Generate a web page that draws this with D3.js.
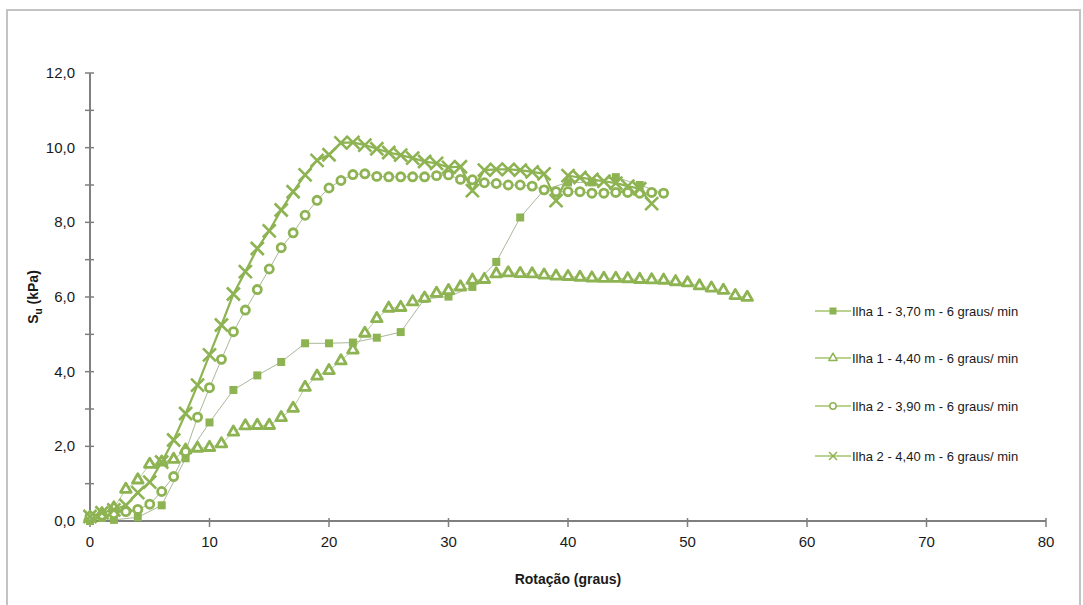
<!DOCTYPE html>
<html>
<head>
<meta charset="utf-8">
<script src="https://cdn.jsdelivr.net/npm/d3@7"></script>
<style>
  body { margin: 0; background: #fff; }
  text { font-family: "Liberation Sans", Arial, sans-serif; fill: #1a1a1a; }
</style>
</head>
<body>
<script>
var width = 1083, height = 605;
var margin = {left: 90, top: 73, right: 37, bottom: 84};
var innerW = 1046 - 90, innerH = 521 - 73;

// data
var sqX = [0,1,2,4,6,8,10,12,14,16,18,20,22,24,26,28,30,32,34,36,38,40,42,44,46,48];
var sqY = [0.0,0.08,0.03,0.1,0.42,1.68,2.64,3.51,3.9,4.26,4.76,4.76,4.78,4.91,5.06,5.95,6.01,6.27,6.94,8.13,8.87,9.07,9.07,9.21,9.0,8.78];

var triX = d3.range(0, 56);
var triY = [0.1,0.2,0.35,0.85,1.1,1.52,1.58,1.65,1.9,1.95,1.97,2.07,2.38,2.55,2.56,2.56,2.77,3.02,3.58,3.88,4.03,4.29,4.58,5.03,5.42,5.7,5.72,5.87,5.97,6.1,6.17,6.27,6.45,6.47,6.62,6.65,6.63,6.62,6.59,6.56,6.55,6.53,6.51,6.5,6.5,6.49,6.47,6.46,6.45,6.41,6.38,6.3,6.24,6.18,6.04,5.99];

var cirX = d3.range(0, 49);
var cirY = [0.12,0.16,0.2,0.25,0.31,0.45,0.79,1.19,1.86,2.78,3.57,4.33,5.07,5.65,6.2,6.75,7.32,7.72,8.19,8.59,8.92,9.12,9.28,9.3,9.23,9.22,9.22,9.22,9.22,9.25,9.27,9.15,9.14,9.06,9.04,9.0,9.0,8.97,8.87,8.82,8.82,8.82,8.78,8.78,8.8,8.8,8.78,8.8,8.78];

var crX = d3.range(0, 48);
var crY = [0.12,0.22,0.3,0.42,0.76,1.04,1.58,2.17,2.88,3.64,4.45,5.25,6.08,6.68,7.3,7.77,8.33,8.82,9.27,9.66,9.81,10.13,10.14,10.07,9.97,9.87,9.8,9.72,9.63,9.58,9.47,9.49,8.85,9.4,9.42,9.42,9.4,9.35,9.3,8.58,9.25,9.2,9.15,9.1,9.05,8.97,8.9,8.5];

var seriesNames = ["Ilha 1 - 3,70 m - 6 graus/ min", "Ilha 1 - 4,40 m - 6 graus/ min",
                   "Ilha 2 - 3,90 m - 6 graus/ min", "Ilha 2 - 4,40 m - 6 graus/ min"];
var xTicks = [0,10,20,30,40,50,60,70,80];
var yTicks = [0,2,4,6,8,10,12];
var yMinor = d3.range(0, 13);

var green = "#8db352";

var svg = d3.select("body").append("svg")
    .attr("width", width).attr("height", height);

// outer frame
svg.append("rect").attr("x", 7).attr("y", 10).attr("width", 1073).attr("height", 610)
   .attr("fill", "none").attr("stroke", "#c3c3c3").attr("stroke-width", 2);

var g = svg.append("g").attr("transform", "translate(" + margin.left + "," + margin.top + ")");

var x = d3.scaleLinear().domain([0, 80]).range([0, innerW]);
var y = d3.scaleLinear().domain([0, 12]).range([innerH, 0]);

// y axis
g.append("line").attr("x1", 0).attr("x2", 0).attr("y1", 0).attr("y2", innerH)
 .attr("stroke", "#7f7f7f").attr("stroke-width", 2);
g.selectAll(".ytick").data(yMinor).enter().append("line")
 .attr("x1", -5).attr("x2", 4).attr("y1", d => y(d)).attr("y2", d => y(d))
 .attr("stroke", "#7f7f7f").attr("stroke-width", 1.5);
g.selectAll(".ylab").data(yTicks).enter().append("text")
 .attr("x", -15).attr("y", d => y(d) + 5).attr("text-anchor", "end")
 .attr("font-size", 15)
 .text(d => d3.format(".1f")(d).replace(".", ","));

// x axis
g.append("line").attr("x1", 0).attr("x2", innerW).attr("y1", innerH).attr("y2", innerH)
 .attr("stroke", "#7f7f7f").attr("stroke-width", 2);
g.selectAll(".xtick").data(xTicks).enter().append("line")
 .attr("x1", d => x(d)).attr("x2", d => x(d)).attr("y1", innerH - 3).attr("y2", innerH + 6)
 .attr("stroke", "#7f7f7f").attr("stroke-width", 1.5);
g.selectAll(".xlab").data(xTicks).enter().append("text")
 .attr("x", d => x(d)).attr("y", innerH + 26).attr("text-anchor", "middle")
 .attr("font-size", 15)
 .text(d => d);

// axis titles
svg.append("text").attr("x", 568).attr("y", 584).attr("text-anchor", "middle")
   .attr("font-size", 14).attr("font-weight", "bold").text("Rotação (graus)");
var yt = svg.append("text").attr("transform", "translate(38,297) rotate(-90)")
   .attr("text-anchor", "middle").attr("font-size", 14).attr("font-weight", "bold");
yt.append("tspan").text("S");
yt.append("tspan").attr("font-size", 10).attr("dy", 4).text("u");
yt.append("tspan").attr("dy", -4).text(" (kPa)");

function pts(xs, ys) { return xs.map((d, i) => [d, ys[i]]); }
var line = d3.line().x(d => x(d[0])).y(d => y(d[1]));

var series = [
  {data: pts(sqX, sqY), lc: "#a9b89a", lw: 1, m: "square"},
  {data: pts(triX, triY), lc: "#b7c99a", lw: 1, m: "triangle"},
  {data: pts(cirX, cirY), lc: "#a9b89a", lw: 1, m: "circle"},
  {data: pts(crX, crY), lc: green, lw: 2.2, m: "cross"}
];

function marker(sel, type, size, sw) {
  if (type === "square") {
    sel.append("rect").attr("x", -size/2).attr("y", -size/2).attr("width", size).attr("height", size)
       .attr("fill", green);
  } else if (type === "triangle") {
    sel.append("path").attr("d", d3.symbol(d3.symbolTriangle, size * size * 0.6)())
       .attr("fill", "#fff").attr("stroke", green).attr("stroke-width", sw)
       .attr("stroke-linejoin", "round");
  } else if (type === "circle") {
    sel.append("circle").attr("r", size * 0.45).attr("fill", "#fff")
       .attr("stroke", green).attr("stroke-width", sw);
  } else {
    var h = size * 0.5;
    sel.append("path").attr("d", "M" + (-h) + "," + (-h) + "L" + h + "," + h + "M" + (-h) + "," + h + "L" + h + "," + (-h))
       .attr("stroke", green).attr("stroke-width", sw).attr("fill", "none");
  }
}

series.forEach(s => {
  g.append("path").datum(s.data).attr("d", line)
   .attr("fill", "none").attr("stroke", s.lc).attr("stroke-width", s.lw);
});
series.forEach(s => {
  g.selectAll(null).data(s.data).enter().append("g")
   .attr("transform", d => "translate(" + x(d[0]) + "," + y(d[1]) + ")")
   .each(function() {
     if (s.m === "cross") marker(d3.select(this), s.m, 13, 2.6);
     else if (s.m === "square") marker(d3.select(this), s.m, 8, 0);
     else marker(d3.select(this), s.m, 9, 2.8);
   });
});

// legend
var legY = [311, 358, 406, 456];
series.forEach((s, i) => {
  var lg = svg.append("g").attr("transform", "translate(815," + legY[i] + ")");
  lg.append("line").attr("x1", 0).attr("x2", 36).attr("y1", 0).attr("y2", 0)
    .attr("stroke", "#a6c36d").attr("stroke-width", 1.5);
  var mk = lg.append("g").attr("transform", "translate(18,0)");
  marker(mk, s.m, s.m === "cross" ? 8 : 7, 1.5);
  lg.append("text").attr("x", 37).attr("y", 5).attr("font-size", 13).text(seriesNames[i]);
});
</script>
</body>
</html>
